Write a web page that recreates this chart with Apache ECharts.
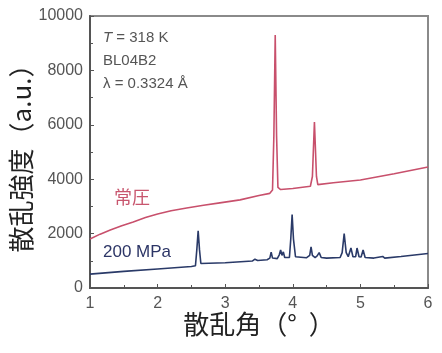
<!DOCTYPE html>
<html>
<head>
<meta charset="utf-8">
<script src="https://cdn.jsdelivr.net/npm/echarts@6/dist/echarts.min.js"></script>
<style>
  html, body { margin: 0; padding: 0; background: #fff; }
  #chart { width: 442px; height: 353px; }
</style>
</head>
<body>
<div id="chart"></div>
<script>
// 常圧 (ambient pressure) pattern, [angle, intensity]
const ambientData = [
  [1.0, 1800], [1.15, 1980], [1.3, 2130], [1.47, 2290], [1.64, 2430], [1.82, 2590],
  [2.0, 2720], [2.2, 2840], [2.43, 2940], [2.68, 3040], [2.92, 3130],
  [3.22, 3240], [3.5, 3400], [3.66, 3480], [3.7, 3600], [3.72, 5600], [3.74, 9300],
  [3.76, 5600], [3.78, 3700], [3.82, 3620], [4.0, 3660], [4.26, 3740], [4.29, 4100],
  [4.32, 6100], [4.35, 4100], [4.37, 3800], [4.6, 3870], [5.0, 3970], [5.5, 4200],
  [6.0, 4450]
];

// 200 MPa pattern
const mpaData = [
  [1.0, 510], [1.5, 610], [2.0, 700], [2.5, 790], [2.56, 820], [2.58, 1400], [2.6, 2100],
  [2.62, 1400], [2.64, 900], [3.0, 930], [3.4, 990], [3.44, 1060], [3.48, 1010],
  [3.62, 1040], [3.66, 1100], [3.68, 1320], [3.7, 1100], [3.77, 1080], [3.8, 1220],
  [3.82, 1400], [3.84, 1200], [3.86, 1330], [3.88, 1120], [3.95, 1120], [3.97, 1800],
  [3.99, 2700], [4.01, 1800], [4.04, 1150], [4.2, 1110], [4.25, 1200], [4.27, 1510],
  [4.29, 1200], [4.33, 1120], [4.36, 1180], [4.39, 1300], [4.42, 1120], [4.5, 1100],
  [4.7, 1120], [4.73, 1300], [4.76, 2000], [4.79, 1300], [4.82, 1150], [4.86, 1470],
  [4.89, 1150], [4.93, 1150], [4.95, 1470], [4.98, 1150], [5.01, 1140], [5.04, 1400],
  [5.07, 1120], [5.2, 1100], [5.33, 1160], [5.36, 1100], [5.6, 1160], [6.0, 1270]
];

const xRange = [1, 6];
const yRange = [0, 10000];
const infoLines = ['{i|T} = 318 K', 'BL04B2', 'λ = 0.3324 Å'];

const numFont = '"Liberation Sans", Arial, sans-serif';
const jpFont = '"Noto Sans CJK JP", sans-serif';

const chart = echarts.init(document.getElementById('chart'));

chart.setOption({
  animation: false,
  grid: {
    left: 90, right: 14, top: 16, bottom: 65,
    containLabel: false, outerBoundsMode: 'none',
    show: true, borderColor: '#8a8a8a', borderWidth: 2
  },
  xAxis: {
    type: 'value',
    min: xRange[0], max: xRange[1], interval: 1,
    name: '散乱角（°  ）',
    nameLocation: 'middle',
    nameGap: 23,
    nameMoveOverlap: false,
    nameTextStyle: { fontFamily: jpFont, fontSize: 26, color: '#222', verticalAlign: 'top' },
    axisLine: { lineStyle: { color: '#555', width: 2 } },
    axisTick: { inside: true, length: 4, lineStyle: { color: '#555' } },
    minorTick: { show: true, splitNumber: 2, length: 3, lineStyle: { color: '#555' } },
    splitLine: { show: false },
    axisLabel: { fontFamily: numFont, fontSize: 16, color: '#555', margin: 8 }
  },
  yAxis: {
    type: 'value',
    min: yRange[0], max: yRange[1], interval: 2000,
    name: '散乱強度（a.u.）',
    nameLocation: 'middle',
    nameGap: 56,
    nameMoveOverlap: false,
    nameTextStyle: { fontFamily: jpFont, fontSize: 26, color: '#222' },
    axisLine: { show: true, lineStyle: { color: '#555', width: 2 } },
    axisTick: { show: true, inside: true, length: 4, lineStyle: { color: '#555' } },
    minorTick: { show: true, splitNumber: 2, length: 3, lineStyle: { color: '#555' } },
    splitLine: { show: false },
    axisLabel: {
      fontFamily: numFont, fontSize: 16, color: '#555', margin: 7,
      formatter: v => String(v)
    }
  },
  graphic: [
    {
      type: 'text', left: 103, top: 26,
      style: {
        text: infoLines.join('\n'),
        font: '15px ' + numFont,
        fill: '#555',
        lineHeight: 23,
        rich: { i: { fontStyle: 'italic', font: 'italic 15px ' + numFont, fill: '#555' } }
      }
    },
    {
      type: 'text', left: 114, top: 188,
      style: { text: '常圧', font: '18px ' + jpFont, fill: '#c8566e' }
    },
    {
      type: 'text', left: 103, top: 244,
      style: { text: '200 MPa', font: '17px ' + numFont, fill: '#2c3566' }
    }
  ],
  series: [
    {
      name: '常圧', type: 'line', data: ambientData,
      showSymbol: false, smooth: false,
      lineStyle: { color: '#c8506c', width: 1.6 }
    },
    {
      name: '200 MPa', type: 'line', data: mpaData,
      showSymbol: false, smooth: false,
      lineStyle: { color: '#2a3a68', width: 1.6 }
    }
  ]
});
</script>
</body>
</html>
